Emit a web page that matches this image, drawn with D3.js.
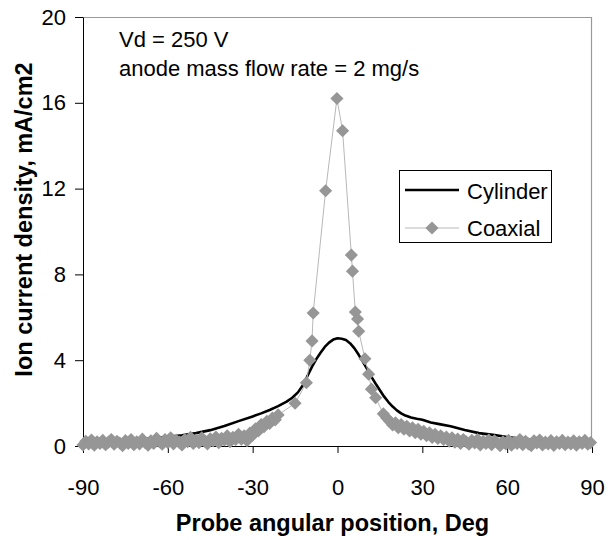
<!DOCTYPE html>
<html>
<head>
<meta charset="utf-8">
<script src="https://cdn.jsdelivr.net/npm/d3@7"></script>
<style>
  body { margin: 0; background: #fff; }
  svg { display: block; font-family: "Liberation Sans", Arial, sans-serif; }
</style>
</head>
<body>
<div id="chart"></div>
<script>
// Dados (graus, mA/cm2)
const cylDeg = [-90, -85, -80, -75, -70, -65, -60, -55, -50, -45, -40, -35, -30, -27, -24, -21, -18, -16, -14, -12,
  -10.5, -9, -7.5, -6, -4.5, -3, -1.5, 0, 1.5, 3, 4.5, 6, 7.5, 9, 10.5, 12, 13.5, 15, 16.5, 18,
  19.5, 21, 22.5, 24, 26, 28, 30, 33, 36, 40, 45, 50, 55, 60, 65, 70, 75, 80, 85, 90];
const cylJ = [0.12, 0.15, 0.19, 0.24, 0.3, 0.37, 0.43, 0.5, 0.6, 0.74, 0.93, 1.16, 1.38, 1.52, 1.68, 1.86, 2.07, 2.25, 2.5, 2.88,
  3.3, 3.7, 4.05, 4.35, 4.62, 4.82, 4.96, 5.02, 5.0, 4.94, 4.78, 4.55, 4.25, 3.92, 3.58, 3.22, 2.9, 2.6, 2.3, 2.05,
  1.84, 1.66, 1.52, 1.42, 1.33, 1.27, 1.22, 1.1, 1.02, 0.92, 0.75, 0.6, 0.52, 0.42, 0.34, 0.27, 0.2, 0.15, 0.12, 0.1];

const coaxDeg = [-90, -89, -88, -87, -86, -85, -84, -83, -82, -81, -80, -79, -78, -77, -76, -75, -74, -73, -72, -71,
  -70, -69, -68, -67, -66, -65, -64, -63, -62, -61, -60, -59, -58, -57, -56, -55, -54, -53, -52, -51,
  -50, -49, -48, -47, -46, -45, -44, -43, -42, -41, -40, -39, -38, -37, -36, -35, -34, -33, -32, -31,
  -30, -29, -28, -27, -26, -25, -24, -23, -22, -21,
  -15, -11, -9.8, -9, -8.6, -4.2, -0.2, 1.8, 4.9, 5.3, 6.3, 7.1, 7.5, 9.7, 11, 12, 13.5, 16.2, 17.4,
  18.5, 19.5, 20.5, 21.5, 22.5, 23.5, 24.5, 25.5, 26.5, 27.5, 28.5, 29.5, 30.5, 31.5, 32.5, 33.5, 34.5, 35.5, 36.5, 37.5,
  38.5, 39.5, 40.5, 41.5, 42.5, 43.5, 44.5, 45.5, 46.5, 47.5, 48.5, 49.5, 50.5, 51.5, 52.5, 53.5, 54.5, 55.5, 56.5, 57.5,
  58.5, 59.5, 60.5, 61.5, 62.5, 63.5, 64.5, 65.5, 66.5, 67.5, 68.5, 69.5, 70.5, 71.5, 72.5, 73.5, 74.5, 75.5, 76.5, 77.5,
  78.5, 79.5, 80.5, 81.5, 82.5, 83.5, 84.5, 85.5, 86.5, 87.5, 88.5, 89.5];
const coaxJ = [0.05, 0.22, 0.1, 0.28, 0.04, 0.2, 0.12, 0.26, 0.06, 0.18, 0.3, 0.08, 0.22, 0.14, 0.02, 0.25, 0.12, 0.3, 0.06, 0.2,
  0.1, 0.32, 0.15, 0.04, 0.24, 0.12, 0.36, 0.2, 0.08, 0.3, 0.16, 0.38, 0.1, 0.26, 0.18, 0.05, 0.3, 0.2, 0.4, 0.12,
  0.28, 0.16, 0.38, 0.22, 0.1, 0.34, 0.24, 0.42, 0.15, 0.36, 0.28, 0.48, 0.2, 0.4, 0.3, 0.55, 0.32, 0.48, 0.25, 0.6,
  0.5, 0.8, 0.7, 1.0, 0.9, 1.15, 1.05, 1.3, 1.22, 1.45,
  1.99, 2.95, 4.0, 4.9, 6.2, 11.9, 16.2, 14.7, 8.9, 8.15, 6.25, 5.92, 5.35, 4.07, 3.35, 2.65, 2.25, 1.5, 1.3,
  1.15, 0.98, 1.08, 0.85, 1.0, 0.78, 0.92, 0.7, 0.85, 0.62, 0.78, 0.55, 0.68, 0.48, 0.62, 0.4, 0.55, 0.35, 0.48, 0.3,
  0.42, 0.22, 0.38, 0.18, 0.32, 0.12, 0.3, 0.2, 0.08, 0.26, 0.14, 0.3, 0.05, 0.22, 0.12, 0.28, 0.06, 0.24, 0.15, 0.02,
  0.2, 0.1, 0.26, 0.04, 0.18, 0.12, 0.3, 0.06, 0.22, 0.1, 0.02, 0.24, 0.14, 0.28, 0.05, 0.18, 0.1, 0.25, 0.03, 0.2,
  0.12, 0.26, 0.06, 0.18, 0.1, 0.24, 0.04, 0.2, 0.12, 0.26, 0.08, 0.16];

const xTicks = [-90, -60, -30, 0, 30, 60, 90];
const yTicks = [0, 4, 8, 12, 16, 20];

const cylinder = cylDeg.map((d, i) => ({ x: d, y: cylJ[i] }));
const coaxial = coaxDeg.map((d, i) => ({ x: d, y: coaxJ[i] }));

const W = 608, H = 540;
const margin = { top: 17, right: 16, bottom: 94, left: 83 };
const width = W - margin.left - margin.right;
const height = H - margin.top - margin.bottom;

const svg = d3.select('#chart').append('svg')
  .attr('width', W)
  .attr('height', H);

const g = svg.append('g')
  .attr('transform', `translate(${margin.left},${margin.top})`);

// Escalas
const x = d3.scaleLinear().domain([-90, 90]).range([0, width]);
const y = d3.scaleLinear().domain([0, 20]).range([height, 0]);

// Borda cinza (topo e direita)
g.append('path')
  .attr('d', `M0,0.5H${width - 0.5}V${height}`)
  .attr('fill', 'none')
  .attr('stroke', '#999')
  .attr('stroke-width', 1.2);

// Eixos (hífen simples nos rótulos, como no original)
const xAxis = g.append('g')
  .attr('transform', `translate(0,${height})`)
  .call(d3.axisBottom(x).tickValues(xTicks).tickFormat(d => String(d))
    .tickSize(7).tickPadding(26).tickSizeOuter(0));

const yAxis = g.append('g')
  .call(d3.axisLeft(y).tickValues(yTicks).tickFormat(d => String(d))
    .tickSize(8).tickPadding(9).tickSizeOuter(0));

[xAxis, yAxis].forEach(ax => {
  ax.select('.domain').attr('stroke', '#000');
  ax.selectAll('.tick line').attr('stroke', '#000');
  ax.selectAll('.tick text')
    .attr('fill', '#000')
    .style('font-size', '22px')
    .style('font-family', '"Liberation Sans", Arial, sans-serif');
});

const line = d3.line().x(d => x(d.x)).y(d => y(d.y));

// Cilindro (preto) - desenhado antes, fica por baixo dos losangos
g.append('path')
  .datum(cylinder)
  .attr('fill', 'none')
  .attr('stroke', '#000')
  .attr('stroke-width', 2.6)
  .attr('stroke-linejoin', 'round')
  .attr('d', line);

// Linha coaxial (cinza claro) e marcadores
g.append('path')
  .datum(coaxial)
  .attr('fill', 'none')
  .attr('stroke', '#b8b8b8')
  .attr('stroke-width', 1)
  .attr('d', line);

const diamond = d3.symbol(d3.symbolSquare, 86);

g.selectAll('.coax')
  .data(coaxial)
  .enter()
  .append('path')
  .attr('class', 'coax')
  .attr('d', diamond)
  .attr('transform', d => `translate(${x(d.x)},${y(d.y)}) rotate(45)`)
  .attr('fill', '#969696');

// Anotações
g.append('text')
  .attr('x', 119 - margin.left)
  .attr('y', 47 - margin.top)
  .style('font-size', '22px')
  .text('Vd = 250 V');

g.append('text')
  .attr('x', 119 - margin.left)
  .attr('y', 76 - margin.top)
  .style('font-size', '22px')
  .text('anode mass flow rate = 2 mg/s');

// Títulos dos eixos
svg.append('text')
  .attr('x', margin.left + width / 2 - 5)
  .attr('y', 531)
  .attr('text-anchor', 'middle')
  .style('font-size', '23.5px')
  .style('font-weight', 'bold')
  .text('Probe angular position, Deg');

svg.append('text')
  .attr('transform', `translate(32,${margin.top + height / 2 - 12}) rotate(-90)`)
  .attr('text-anchor', 'middle')
  .style('font-size', '23.5px')
  .style('font-weight', 'bold')
  .text('Ion current density, mA/cm2');

// Legenda
const legend = svg.append('g')
  .attr('transform', 'translate(399,170)');

legend.append('rect')
  .attr('x', 0.5)
  .attr('y', 0.5)
  .attr('width', 152)
  .attr('height', 72)
  .attr('fill', '#fff')
  .attr('stroke', '#000')
  .attr('stroke-width', 1);

legend.append('line')
  .attr('x1', 6).attr('x2', 60)
  .attr('y1', 20).attr('y2', 20)
  .attr('stroke', '#000')
  .attr('stroke-width', 2.6);

legend.append('text')
  .attr('x', 68)
  .attr('y', 29)
  .style('font-size', '22px')
  .text('Cylinder');

legend.append('line')
  .attr('x1', 6).attr('x2', 60)
  .attr('y1', 58).attr('y2', 58)
  .attr('stroke', '#b8b8b8')
  .attr('stroke-width', 1);

legend.append('path')
  .attr('d', diamond)
  .attr('transform', 'translate(33,58) rotate(45)')
  .attr('fill', '#969696');

legend.append('text')
  .attr('x', 68)
  .attr('y', 66)
  .style('font-size', '22px')
  .text('Coaxial');
</script>
</body>
</html>
